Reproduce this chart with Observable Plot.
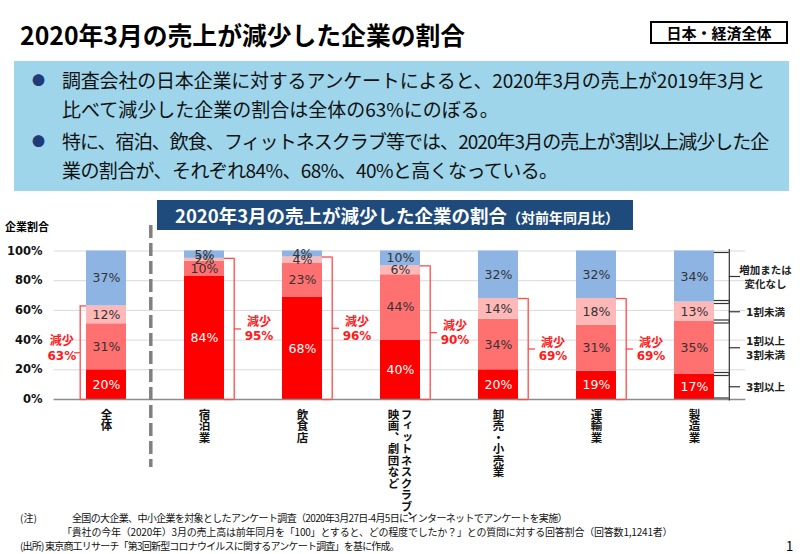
<!DOCTYPE html>
<html lang="ja"><head><meta charset="utf-8">
<script src="https://cdn.jsdelivr.net/npm/d3@7"></script>
<script src="https://cdn.jsdelivr.net/npm/@observablehq/plot@0.6"></script>
<style>
html,body{margin:0;padding:0;background:#fff}
body{width:800px;height:554px;position:relative;overflow:hidden;font-family:"Noto Sans CJK JP","Noto Sans",sans-serif;color:#000}
.a{position:absolute;white-space:nowrap}
.p{font-size:19px;line-height:28.5px;color:#111}
.b{font-size:13px;color:#1F3B78;line-height:28.5px}
.fn{font-size:10px;line-height:14px;color:#111}
</style></head><body>
<div class="a" style="left:20px;top:17px;font-size:24.8px;font-weight:bold;line-height:34px">2020年3月の売上が減少した企業の割合</div>
<div class="a" style="left:650px;top:21px;width:134px;height:19px;border:2px solid #000;font-size:15px;font-weight:bold;text-align:center;line-height:19px">日本・経済全体</div>
<div class="a" style="left:14px;top:61px;width:775px;height:130px;background:#9ED5EA"></div>
<div class="a b" style="left:32px;top:66px">●</div>
<div class="a p" style="left:62px;top:66px"><span style="letter-spacing:-0.2px">調査会社の日本企業に対するアンケートによると、2020年3月の売上が2019年3月と</span><br>比べて減少した企業の割合は全体の63%にのぼる。</div>
<div class="a b" style="left:32px;top:127px">●</div>
<div class="a p" style="left:62px;top:127px"><span style="letter-spacing:-0.95px">特に、宿泊、飲食、フィットネスクラブ等では、2020年3月の売上が3割以上減少した企</span><br><span style="letter-spacing:-0.6px">業の割合が、それぞれ84%、68%、40%と高くなっている。</span></div>
<div id="chart" class="a" style="left:0;top:200px"></div>
<div class="a" style="left:157px;top:200px;width:476px;height:30px;background:#1F4A7C;color:#fff;font-weight:bold;line-height:30px"><span style="margin-left:18px;font-size:18.5px">2020年3月の売上が減少した企業の割合</span><span style="font-size:14px">（対前年同月比）</span></div>
<div class="a" style="left:5px;top:218px;font-size:11px;font-weight:bold;line-height:16px">企業割合</div>
<div class="a fn" style="left:20px;top:511px">(注)</div>
<div class="a fn" style="left:72px;top:511px;letter-spacing:-0.65px">全国の大企業、中小企業を対象としたアンケート調査（2020年3月27日-4月5日にインターネットでアンケートを実施）</div>
<div class="a fn" style="left:62px;top:525px;letter-spacing:-0.2px">「貴社の今年（2020年）3月の売上高は前年同月を「100」とすると、どの程度でしたか？」との質問に対する回答割合（回答数1,1241者）</div>
<div class="a fn" style="left:20px;top:539px;letter-spacing:-0.8px">(出所) 東京商工リサーチ「第3回新型コロナウイルスに関するアンケート調査」を基に作成。</div>
<div class="a" style="left:786px;top:537px;font-size:13px;line-height:18px">1</div>
<script>
const categories = ["全体","宿泊業","飲食店","フィットネスクラブ、映画、劇団など","卸売・小売業","運輸業","製造業"];
const categoryLabelColumns = [["全体"],["宿泊業"],["飲食店"],["フィットネスクラブ、","映画、劇団など"],["卸売・小売業"],["運輸業"],["製造業"]];
const segments = ["3割以上","1割以上3割未満","1割未満","増加または変化なし"];
const segmentLegend = ["3割以上","1割以上\n3割未満","1割未満","増加または\n変化なし"];
const segmentColors = ["#FF0000","#FF7070","#FFB8B8","#8EB4E3"];
const share30plus   = [20,84,68,40,20,19,17];
const share10to30   = [31,10,23,44,34,31,35];
const shareUnder10  = [12, 2, 4, 6,14,18,13];
const shareNoDecline= [37, 5, 4,10,32,32,34];
const decreaseLabels = [63,95,96,90,69,69,null];
const yTicks = [0,20,40,60,80,100];

const series = [share30plus, share10to30, shareUnder10, shareNoDecline];
const rows = [];
categories.forEach((c,i)=>segments.forEach((s,j)=>rows.push({category:c, segment:s, value:series[j][i]})));

const brackets = categories.map((c,i)=>{
  const dec = share30plus[i]+share10to30[i]+shareUnder10[i];
  return {category:c, top: dec/(dec+shareNoDecline[i]), label: decreaseLabels[i]};
}).filter(d=>d.label!=null);
const leftB = brackets.filter(d=>d.category===categories[0]);
const rightB = brackets.filter(d=>d.category!==categories[0]);

const labelRows = categories.flatMap((c,i)=>categoryLabelColumns[i].map((t,j)=>({category:c,text:t,col:j,n:categoryLabelColumns[i].length})));

const st = {x:"category", y:"value", z:"segment", offset:"normalize"};
const isLegendCat = d => d.category===categories[categories.length-1];
const red = "#FF4A4A", dark = "#333";
const noY = o => { const {y, ...r} = o; return r; };

const chart = Plot.plot({
  width: 800, height: 330,
  marginTop: 50.5, marginBottom: 131, marginLeft: 53.6, marginRight: 54.6,
  style: {fontFamily: "'DejaVu Sans','Noto Sans CJK JP',sans-serif", background: "transparent", overflow: "visible", color:"#111"},
  x: {domain: categories, paddingInner: 0.595, paddingOuter: 0.2975, axis: null},
  y: {domain: [0,1], axis: null},
  color: {domain: segments, range: segmentColors},
  marks: [
    Plot.ruleY(yTicks.slice(1).map(t=>t/100), {stroke:"#d9d9d9", strokeWidth:1}),
    Plot.axisY(yTicks.map(t=>t/100), {tickFormat: d=>Math.round(d*100)+"%", tickSize:0, tickPadding:11.5, fontSize:11.5, fontWeight:"bold", label:null}),
    Plot.barY(rows, Plot.stackY({...st, fill:"segment"})),
    Plot.ruleY([0], {stroke:"#8c8c8c", strokeWidth:1.5}),
    Plot.text(rows, Plot.stackY({...st, text: d=>d.segment===segments[0]? d.value+"%" : null, fill:"white", fontSize:12.5})),
    Plot.text(rows, Plot.stackY({...st, text: d=>d.segment!==segments[0]? d.value+"%" : null, fill:"#333", fontSize:12.5})),
    // divider
    Plot.ruleX([categories[0]], {x:d=>d, dx:44.3, insetTop:-25.5, insetBottom:-68, stroke:"#808080", strokeWidth:3.5, strokeDasharray:"13,5"}),
    // red brackets right
    Plot.ruleX(rightB, {x:"category", y1:0, y2:"top", dx:29.7, stroke:red, strokeWidth:1.3}),
    Plot.tickY(rightB, {x:"category", y:"top", dx:9.7, insetLeft:30, stroke:red, strokeWidth:1.3}),
    Plot.tickY(rightB, {x:"category", y:0, dx:9.7, insetLeft:30, stroke:red, strokeWidth:1.3}),
    Plot.tickY(rightB, {x:"category", y:d=>d.top/2, dx:17, insetLeft:32.7, stroke:red, strokeWidth:1.3}),
    Plot.text(rightB, {x:"category", y:d=>d.top/2, text:d=>"減少\n"+d.label+"%", dx:54.5, fill:"#FF1A1A", fontWeight:"bold", fontSize:12, lineHeight:1.15}),
    // red bracket left
    Plot.ruleX(leftB, {x:"category", y1:0, y2:"top", dx:-26.3, stroke:red, strokeWidth:1.3}),
    Plot.tickY(leftB, {x:"category", y:"top", dx:-6.3, insetRight:33.7, stroke:red, strokeWidth:1.3}),
    Plot.tickY(leftB, {x:"category", y:0, dx:-6.3, insetRight:33.7, stroke:red, strokeWidth:1.3}),
    Plot.tickY(leftB, {x:"category", y:d=>d.top/2, dx:-12, insetRight:34, stroke:red, strokeWidth:1.3}),
    Plot.text(leftB, {x:"category", y:d=>d.top/2, text:d=>"減少\n"+d.label+"%", dx:-44.7, dy:-5, fill:"#FF1A1A", fontWeight:"bold", fontSize:12, lineHeight:1.2}),
    // legend brackets
    Plot.ruleX(rows, noY(Plot.stackY({...st, filter:isLegendCat, dx:34.8, insetTop:1.5, insetBottom:1.5, stroke:dark, strokeWidth:1.2}))),
    Plot.tickY(rows, Plot.stackY2({...st, filter:isLegendCat, dx:14.8, dy:1.5, insetLeft:25, stroke:dark, strokeWidth:1.2})),
    Plot.tickY(rows, Plot.stackY1({...st, filter:isLegendCat, dx:14.8, dy:-1.5, insetLeft:25, stroke:dark, strokeWidth:1.2})),
    Plot.tickY(rows, Plot.stackY({...st, filter:isLegendCat, dx:26, insetLeft:28.8, stroke:dark, strokeWidth:1.2})),
    Plot.text(rows, Plot.stackY({...st, filter:isLegendCat, text:d=>segmentLegend[segments.indexOf(d.segment)], dx:71, fontSize:10.5, fontWeight:"bold", lineHeight:1.3, fill:"#222"})),
    // category labels (vertical)
    Plot.text(labelRows, {filter:d=>d.n===1, x:"category", text:"text", frameAnchor:"bottom", dy:9, textAnchor:"start", fontWeight:"bold", fontSize:11.5, fill:"#111"}),
    Plot.text(labelRows, {filter:d=>d.n===2 && d.col===0, x:"category", text:"text", frameAnchor:"bottom", dy:9, dx:6, textAnchor:"start", fontWeight:"bold", fontSize:11.5, fill:"#111"}),
    Plot.text(labelRows, {filter:d=>d.n===2 && d.col===1, x:"category", text:"text", frameAnchor:"bottom", dy:9, dx:-7, textAnchor:"start", fontWeight:"bold", fontSize:11.5, fill:"#111"})
  ]
});
const labelSet = new Set(labelRows.map(d=>d.text));
d3.select(chart).selectAll("text").filter(function(){return labelSet.has(this.textContent);})
  .attr("writing-mode","vertical-rl").attr("y",null).attr("dy",null)
  .style("font-family","'Noto Sans CJK JP',sans-serif");
document.getElementById("chart").appendChild(chart);
</script>
</body></html>
